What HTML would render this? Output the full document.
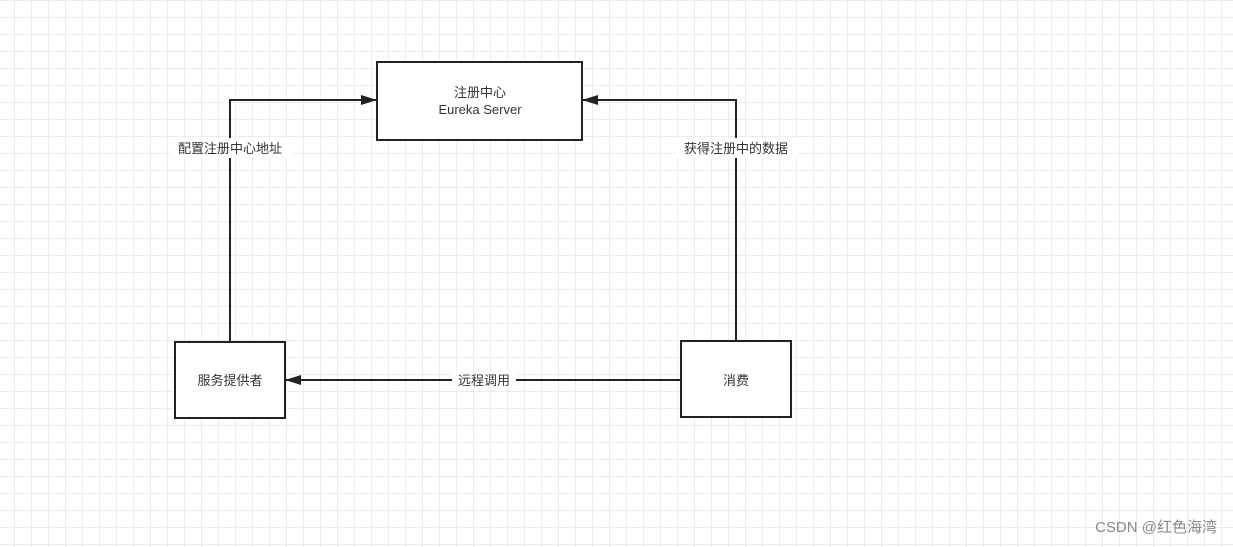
<!DOCTYPE html>
<html><head><meta charset="utf-8"><style>
html,body{margin:0;padding:0}
body{width:1233px;height:547px;overflow:hidden;background-color:#fff;
background-image:linear-gradient(#ececec 1px,transparent 1px),linear-gradient(90deg,#ececec 1px,transparent 1px);
background-size:17px 17px;background-position:-3px 0;font-family:"Liberation Sans","Noto Sans CJK SC",sans-serif;}
</style></head><body>
<svg width="1233" height="547" style="position:absolute;left:0;top:0" font-family="Liberation Sans, Noto Sans CJK SC, sans-serif">
<defs><marker id="a" markerWidth="16" markerHeight="10" refX="15" refY="5" orient="auto" markerUnits="userSpaceOnUse"><path d="M0,0 L16,5 L0,10 z" fill="#222"/></marker></defs>
<g stroke="#222" stroke-width="2" fill="#fff">
<rect x="377" y="62" width="205" height="78"/>
<rect x="175" y="342" width="110" height="76"/>
<rect x="681" y="341" width="110" height="76"/>
</g>
<g stroke="#222" stroke-width="2" fill="none">
<polyline points="230,342 230,100 376,100" marker-end="url(#a)"/>
<polyline points="736,341 736,100 583,100" marker-end="url(#a)"/>
<line x1="681" y1="380" x2="286" y2="380" marker-end="url(#a)"/>
</g>
<rect x="170" y="138" width="122" height="20" fill="#fff"/>
<rect x="676" y="138" width="122" height="20" fill="#fff"/>
<rect x="452" y="371" width="64" height="18" fill="#fff"/>
<g font-size="13" fill="#333" text-anchor="middle">
<text x="480" y="97">注册中心</text>
<text x="480" y="114">Eureka Server</text>
<text x="230" y="153">配置注册中心地址</text>
<text x="736" y="153">获得注册中的数据</text>
<text x="484" y="385">远程调用</text>
<text x="230" y="385">服务提供者</text>
<text x="736" y="385">消费</text>
</g>
<text x="1217" y="532" font-size="15" fill="#888" text-anchor="end">CSDN @红色海湾</text>
</svg>
</body></html>
